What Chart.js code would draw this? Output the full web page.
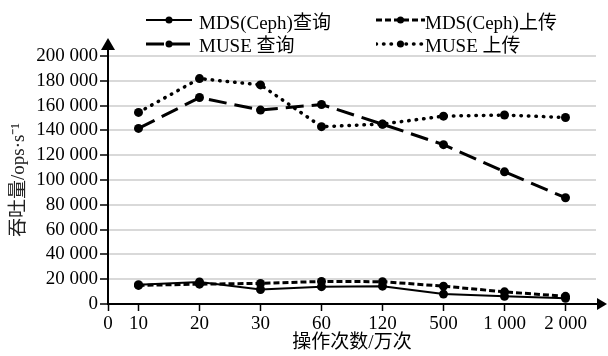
<!DOCTYPE html>
<html><head><meta charset="utf-8">
<script src="https://cdn.jsdelivr.net/npm/chart.js@4.4.1/dist/chart.umd.min.js"></script>
<style>
html,body{margin:0;padding:0;background:#fff;}
#wrap{position:relative;width:608px;height:356px;}
#legend .item{position:absolute;display:flex;align-items:center;height:22px;font:19px "Liberation Serif","Times New Roman","Noto Sans CJK SC",serif;color:#000;white-space:nowrap;}
#legend svg{display:block;}
</style></head>
<body><div id="wrap"><canvas id="c" width="608" height="356"></canvas><div id="legend"></div></div>
<script>
const categories = ['10', '20', '30', '60', '120', '500', '1 000', '2 000'];
const originLabel = '0';
const seriesNames = ['MDS(Ceph)查询', 'MDS(Ceph)上传', 'MUSE 查询', 'MUSE 上传'];
const mdsQuery  = [15500, 17700, 11700, 14000, 14400, 8000, 6200, 4600];
const mdsUpload = [15000, 16000, 16600, 18200, 18000, 14400, 9800, 6200];
const museQuery = [141600, 166500, 156400, 160900, 145000, 128500, 106600, 85700];
const museUpload = [154500, 181800, 176700, 143000, 145100, 151500, 152400, 150400];
const yMax = 200000;
const yStep = 20000;
const xTitle = '操作次数/万次';
const yTitle = '吞吐量/ops·s⁻¹';

const FONT = '"Liberation Serif","Times New Roman","Noto Sans CJK SC",serif';
const toPts = arr => arr.map((v, i) => ({x: i + 0.5, y: v}));
const fmt = v => String(v).replace(/\B(?=(\d{3})+(?!\d))/g, ' ');

const styles = [
  {borderWidth: 2, borderDash: [], cap: 'butt'},
  {borderWidth: 3, borderDash: [6, 3], cap: 'butt'},
  {borderWidth: 3, borderDash: [18, 8], cap: 'butt'},
  {borderWidth: 3.5, borderDash: [0.5, 7], cap: 'round'}
];
const seriesData = [mdsQuery, mdsUpload, museQuery, museUpload];

const datasets = seriesData.map((d, i) => ({
  label: seriesNames[i],
  data: toPts(d),
  borderColor: '#000',
  backgroundColor: '#000',
  borderWidth: styles[i].borderWidth,
  borderDash: styles[i].borderDash,
  borderCapStyle: styles[i].cap,
  pointRadius: 4.5,
  pointHoverRadius: 4.5,
  pointBackgroundColor: '#000',
  pointBorderWidth: 0,
  tension: 0,
  clip: false
}));

const arrows = {
  id: 'arrows',
  afterDraw(chart) {
    const {ctx, chartArea: {left, top, right, bottom}} = chart;
    ctx.save();
    ctx.strokeStyle = '#000'; ctx.fillStyle = '#000'; ctx.lineWidth = 2;
    ctx.beginPath(); ctx.moveTo(left, top + 1); ctx.lineTo(left, top - 8); ctx.stroke();
    ctx.beginPath(); ctx.moveTo(left, top - 18); ctx.lineTo(left - 7, top - 6); ctx.lineTo(left + 7, top - 6); ctx.closePath(); ctx.fill();
    ctx.beginPath(); ctx.moveTo(right - 1, bottom); ctx.lineTo(right + 3, bottom); ctx.stroke();
    ctx.beginPath(); ctx.moveTo(right + 11, bottom); ctx.lineTo(right + 1, bottom - 6); ctx.lineTo(right + 1, bottom + 6); ctx.closePath(); ctx.fill();
    ctx.restore();
  }
};

const chart = new Chart(document.getElementById('c'), {
  type: 'line',
  data: {datasets},
  options: {
    responsive: false,
    animation: false,
    events: [],
    layout: {padding: {top: 56, right: 12, left: 0, bottom: 0}},
    plugins: {legend: {display: false}, tooltip: {enabled: false}},
    scales: {
      x: {
        type: 'linear', min: 0, max: categories.length,
        afterFit(s) { s.height = 52; },
        afterBuildTicks(s) { s.ticks = [{value: 0}].concat(categories.map((c, i) => ({value: i + 0.5}))); },
        ticks: {
          autoSkip: false, maxRotation: 0, padding: 2, color: '#000',
          font: {family: FONT, size: 19},
          callback: (v) => v === 0 ? originLabel : categories[Math.floor(v)]
        },
        grid: {drawOnChartArea: false, drawTicks: true, tickLength: 7, tickColor: '#000', tickWidth: 1.5},
        border: {display: true, color: '#000', width: 2},
        title: {display: true, text: xTitle, color: '#000', font: {family: FONT, size: 19}, padding: {top: 0, bottom: 2}}
      },
      y: {
        min: 0, max: yMax,
        afterFit(s) { s.width = 108; },
        ticks: {
          stepSize: yStep, autoSkip: false, padding: 2, color: '#000',
          font: {family: FONT, size: 19},
          callback: v => fmt(v)
        },
        grid: {
          color: c => (c.tick && c.tick.value === 0) ? 'rgba(0,0,0,0)' : '#d9d9d9',
          lineWidth: 2, tickLength: 8, tickColor: '#000', tickWidth: 1.5
        },
        border: {display: true, color: '#000', width: 2},
        title: {display: true, text: yTitle, color: '#222', font: {family: FONT, size: 19}, padding: {top: 8, bottom: 0}}
      }
    }
  },
  plugins: [arrows]
});

// HTML legend built from dataset styles
const legendPos = [
  {sx: 146, sw: 46, tx: 199, y: 20},
  {sx: 376, sw: 49, tx: 425, y: 20},
  {sx: 146, sw: 46, tx: 199, y: 43.5},
  {sx: 376, sw: 49, tx: 425, y: 43.5}
];
const legend = document.getElementById('legend');
datasets.forEach((ds, i) => {
  const p = legendPos[i];
  const svgNS = 'http://www.w3.org/2000/svg';
  const svg = document.createElementNS(svgNS, 'svg');
  svg.setAttribute('width', p.sw); svg.setAttribute('height', 12);
  svg.style.position = 'absolute'; svg.style.left = p.sx + 'px'; svg.style.top = (p.y - 6) + 'px';
  const line = document.createElementNS(svgNS, 'line');
  line.setAttribute('x1', 0); line.setAttribute('x2', p.sw); line.setAttribute('y1', 6); line.setAttribute('y2', 6);
  line.setAttribute('stroke', '#000'); line.setAttribute('stroke-width', ds.borderWidth);
  if (ds.borderDash.length) line.setAttribute('stroke-dasharray', ds.borderDash.join(' '));
  line.setAttribute('stroke-linecap', ds.borderCapStyle);
  svg.appendChild(line);
  const dot = document.createElementNS(svgNS, 'circle');
  dot.setAttribute('cx', p.sw / 2); dot.setAttribute('cy', 6); dot.setAttribute('r', 3.5); dot.setAttribute('fill', '#000');
  svg.appendChild(dot);
  legend.appendChild(svg);
  const t = document.createElement('div');
  t.className = 'item';
  t.style.left = p.tx + 'px'; t.style.top = (p.y - 11) + 'px';
  t.textContent = ds.label;
  legend.appendChild(t);
});
</script>
</body></html>
